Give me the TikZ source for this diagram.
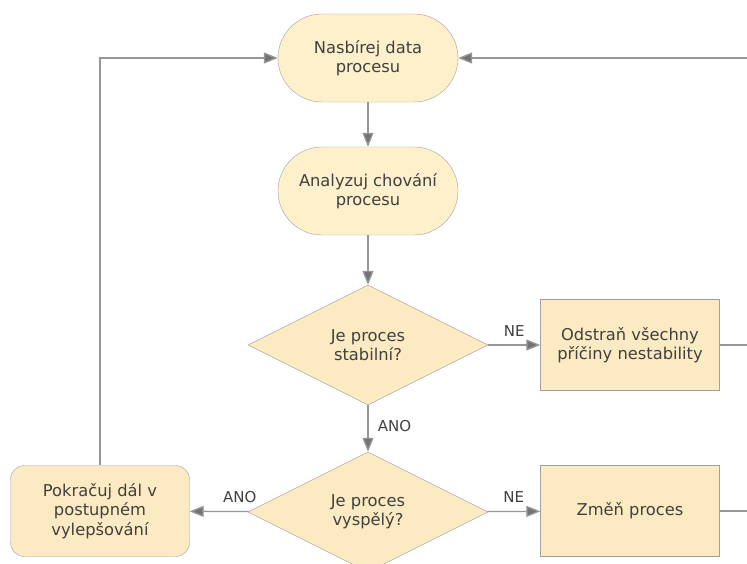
\documentclass[tikz,border=0pt]{standalone}
\usepackage{fontspec}
\setmainfont{DejaVu Sans}
\usetikzlibrary{arrows.meta}
\usetikzlibrary{shapes.geometric}
\usetikzlibrary{positioning}
\definecolor{myfill}{RGB}{252,235,194}
\definecolor{mylight}{RGB}{255,240,204}
\definecolor{myborder}{RGB}{160,160,160}
\definecolor{myline}{RGB}{150,150,150}
\colorlet{mytext}{black!75}

\begin{document}
\begin{tikzpicture}[
		x=1pt,y=-1pt,
		every node/.style={
			font=\fontsize{16.3}{19.5}\selectfont,
			text=mytext,
			align=center
		},
		stadium/.style={draw=myborder,fill=mylight,rounded corners=44pt,
			minimum width=180pt,minimum height=88pt},
		task/.style={draw=myborder,fill=myfill,
			minimum width=179pt,minimum height=91pt},
		roundtask/.style={task,rounded corners=14pt},
		decision/.style={draw=myborder,fill=myfill,diamond,aspect=2,
			minimum width=240pt,minimum height=120pt,inner sep=0pt},
		flow/.style={myline,line width=1.3pt,
			-{Triangle[width=11pt,length=14pt,fill=black!55]}},
		plain/.style={myline,line width=1.3pt},
		answer/.style={font=\fontsize{15}{17}\selectfont}
	]

	\useasboundingbox (0,0) rectangle (747,564);

	\def\midx{368}

	\node[stadium] (collect) at (\midx,58) {Nasbírej data\\procesu};
	\node[stadium] (analyse) at (\midx,191) {Analyzuj chování\\procesu};
	\node[decision] (stable) at (\midx,345) {Je proces\\stabilní?};
	\node[decision] (mature) at (\midx,512) {Je proces\\vyspělý?};
	\node[task] (remove) at (630,345) {Odstraň všechny\\příčiny nestability};
	\node[task] (change) at (630,511) {Změň proces};
	\node[roundtask] (improve) at (100,511) {Pokračuj dál v\\postupném\\vylepšování};

	\coordinate (loopin) at (747,58);
	\coordinate (outA) at (747,345);
	\coordinate (outB) at (747,511);

	\draw[flow] (collect) -- (analyse);
	\draw[flow] (analyse) -- (stable);
	\draw[flow] (stable) -- node[answer,right=6pt,pos=0.45] {ANO} (mature);
	\draw[flow] (stable) -- node[answer,above=5pt,pos=0.5] {NE} (remove);
	\draw[flow] (mature) -- node[answer,above=5pt,pos=0.5] {NE} (change);
	\draw[flow] (mature) -- node[answer,above=5pt,pos=0.15] {ANO} (improve);
	\draw[flow] (improve.north) |- (collect.west);
	\draw[flow] (loopin) -- (collect.east);
	\draw[plain] (remove) -- (outA);
	\draw[plain] (change) -- (outB);

\end{tikzpicture}
\end{document}
